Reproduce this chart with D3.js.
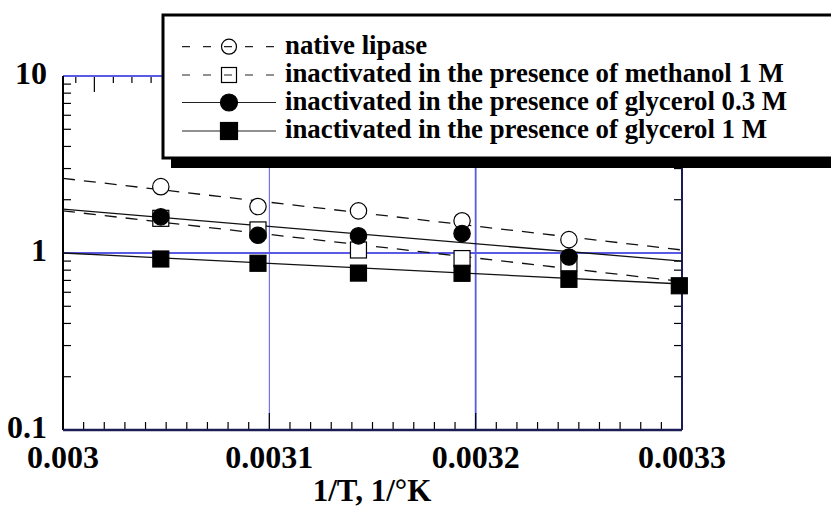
<!DOCTYPE html>
<html><head><meta charset="utf-8">
<script src="https://cdn.jsdelivr.net/npm/d3@7"></script>
<style>
html,body{margin:0;padding:0;background:#fff;}
svg{display:block;}
</style></head>
<body>
<svg id="chart" width="831" height="509"></svg>
<script>
// ---- data ----
const invT = [0.0030474, 0.0030945, 0.0031432, 0.0031934, 0.0032452, 0.0032987];
const seriesNames = [
  "native lipase",
  "inactivated in the presence of methanol 1 M",
  "inactivated in the presence of glycerol 0.3 M",
  "inactivated in the presence of glycerol 1 M"
];
const nativeVals   = [2.37, 1.83, 1.73, 1.52, 1.19, null];
const methanolVals = [1.57, 1.35, 1.04, 0.93, 0.88, null];
const gly03Vals    = [1.60, 1.26, 1.25, 1.29, 0.95, null];
const gly1Vals     = [0.925, 0.875, 0.77, 0.768, 0.71, 0.653];
// regression lines: value at 0.003 and at 0.0033
const fitX = [0.003, 0.0033];
const nativeFit   = [2.64, 1.04];
const methanolFit = [1.73, 0.69];
const gly03Fit    = [1.77, 0.90];
const gly1Fit     = [1.00, 0.668];
const xTickLabels = ["0.003", "0.0031", "0.0032", "0.0033"];
const xTickVals = [0.003, 0.0031, 0.0032, 0.0033];
const yTickLabels = ["0.1", "1", "10"];
const yTickVals = [0.1, 1, 10];
const topMinor = [0.0030062, 0.0030152, 0.0030244, 0.0030334, 0.0030427];
const xTitle = "1/T, 1/°K";

const FONT = "'Liberation Serif', 'Times New Roman', Times, 'DejaVu Serif', serif";

// ---- scales ----
const svg = d3.select("#chart");
const L = 63, R = 682, T = 76, B = 430;
const x = d3.scaleLinear().domain([0.003, 0.0033]).range([L, R]);
const y = d3.scaleLog().domain([0.1, 10]).range([B, T]);
const blue = "#5a5ae6", navy = "#1c1c55";

function txt(sel) {
  return sel.attr("font-family", FONT).attr("font-weight", "bold").attr("fill", "#000");
}

// gridlines
svg.append("line").attr("x1", x(0.0031)).attr("x2", x(0.0031)).attr("y1", T).attr("y2", B)
  .attr("stroke", blue).attr("stroke-width", 1);
svg.append("line").attr("x1", x(0.0032)).attr("x2", x(0.0032)).attr("y1", T).attr("y2", B)
  .attr("stroke", blue).attr("stroke-width", 1.8);
svg.append("line").attr("x1", L).attr("x2", R).attr("y1", y(1)).attr("y2", y(1))
  .attr("stroke", blue).attr("stroke-width", 2);

// minor ticks y (left & right)
const yMinor = [];
[0.1, 1].forEach(d => { for (let k = 2; k <= 9; k++) yMinor.push(d * k); });
const tk = svg.append("g").attr("stroke", "#000").attr("stroke-width", 1.2);
yMinor.forEach(v => {
  tk.append("line").attr("x1", L).attr("x2", L + 8).attr("y1", y(v)).attr("y2", y(v));
  tk.append("line").attr("x1", R).attr("x2", R - 8).attr("y1", y(v)).attr("y2", y(v));
});
// bottom ticks
d3.range(0, 31).forEach(i => {
  const v = 0.003 + i * 0.00001;
  const major = i % 10 === 0;
  tk.append("line").attr("x1", x(v)).attr("x2", x(v)).attr("y1", B).attr("y2", B - (major ? 17 : 8));
});
// top ticks
topMinor.forEach((v, i) => {
  tk.append("line").attr("x1", x(v)).attr("x2", x(v)).attr("y1", T).attr("y2", T + (i === 1 ? 16 : 7));
});

// frame
svg.append("line").attr("x1", L).attr("x2", R).attr("y1", T).attr("y2", T).attr("stroke", blue).attr("stroke-width", 2);
svg.append("line").attr("x1", L).attr("x2", L).attr("y1", T).attr("y2", B).attr("stroke", "#000").attr("stroke-width", 2);
svg.append("line").attr("x1", R).attr("x2", R).attr("y1", T).attr("y2", B).attr("stroke", navy).attr("stroke-width", 2);
svg.append("line").attr("x1", L).attr("x2", R).attr("y1", B).attr("y2", B).attr("stroke", navy).attr("stroke-width", 2.5);

// axis labels
txt(svg.selectAll(".xl").data(xTickVals).enter().append("text"))
  .attr("x", d => x(d)).attr("y", 468).attr("text-anchor", "middle")
  .attr("font-size", 32).text((d, i) => xTickLabels[i]);
txt(svg.selectAll(".yl").data(yTickVals).enter().append("text"))
  .attr("x", 47).attr("y", d => y(d) + 8).attr("text-anchor", "end")
  .attr("font-size", 32).text((d, i) => yTickLabels[i]);
txt(svg.append("text")).attr("x", 372).attr("y", 501).attr("text-anchor", "middle")
  .attr("font-size", 31).text(xTitle);

// regression lines
const line = d3.line().x(d => x(d[0])).y(d => y(d[1]));
const fits = [
  {v: nativeFit, dash: "12,9"},
  {v: methanolFit, dash: "12,9"},
  {v: gly03Fit, dash: null},
  {v: gly1Fit, dash: null}
];
fits.forEach(f => {
  svg.append("path").datum(fitX.map((xx, i) => [xx, f.v[i]]))
    .attr("d", line).attr("fill", "none").attr("stroke", "#111").attr("stroke-width", 1.3)
    .attr("stroke-dasharray", f.dash);
});

// markers
const R0 = 8.2, S0 = 16;
function drawMarkers(vals, shape, filled) {
  const pts = invT.map((xx, i) => [xx, vals[i]]).filter(d => d[1] != null);
  pts.forEach(d => {
    if (shape === "circle") {
      svg.append("circle").attr("cx", x(d[0])).attr("cy", y(d[1])).attr("r", R0)
        .attr("fill", filled ? "#000" : "#fff").attr("stroke", "#000").attr("stroke-width", 1.2);
    } else {
      svg.append("rect").attr("x", x(d[0]) - S0 / 2).attr("y", y(d[1]) - S0 / 2)
        .attr("width", S0).attr("height", S0)
        .attr("fill", filled ? "#000" : "#fff").attr("stroke", "#000").attr("stroke-width", 1.2);
    }
  });
}
drawMarkers(nativeVals, "circle", false);
drawMarkers(methanolVals, "square", false);
drawMarkers(gly03Vals, "circle", true);
drawMarkers(gly1Vals, "square", true);

// legend
const lg = svg.append("g");
lg.append("rect").attr("x", 171).attr("y", 24).attr("width", 700).attr("height", 144).attr("fill", "#000");
lg.append("rect").attr("x", 163).attr("y", 15).attr("width", 700).attr("height", 143)
  .attr("fill", "#fff").attr("stroke", "#000").attr("stroke-width", 3);
const rowsY = [46.7, 75, 102.5, 131];
const legSpec = [
  {shape: "circle", filled: false, dash: "8,13"},
  {shape: "square", filled: false, dash: "8,13"},
  {shape: "circle", filled: true, dash: null},
  {shape: "square", filled: true, dash: null}
];
legSpec.forEach((s, i) => {
  const yy = rowsY[i];
  lg.append("line").attr("x1", 182).attr("x2", 276).attr("y1", yy).attr("y2", yy)
    .attr("stroke", "#222").attr("stroke-width", 1.2).attr("stroke-dasharray", s.dash);
  if (s.shape === "circle") {
    lg.append("circle").attr("cx", 229).attr("cy", yy).attr("r", s.filled ? 8.5 : 7.5)
      .attr("fill", s.filled ? "#000" : "none").attr("stroke", "#000").attr("stroke-width", 1.2);
  } else {
    lg.append("rect").attr("x", 229 - (s.filled ? 8.5 : 7.5)).attr("y", yy - (s.filled ? 8.5 : 7.5))
      .attr("width", s.filled ? 17 : 15).attr("height", s.filled ? 17 : 15)
      .attr("fill", s.filled ? "#000" : "none").attr("stroke", "#000").attr("stroke-width", 1.2);
  }
  txt(lg.append("text")).attr("x", 285).attr("y", yy + 7).attr("font-size", 26.8).text(seriesNames[i]);
});
</script>
</body></html>
